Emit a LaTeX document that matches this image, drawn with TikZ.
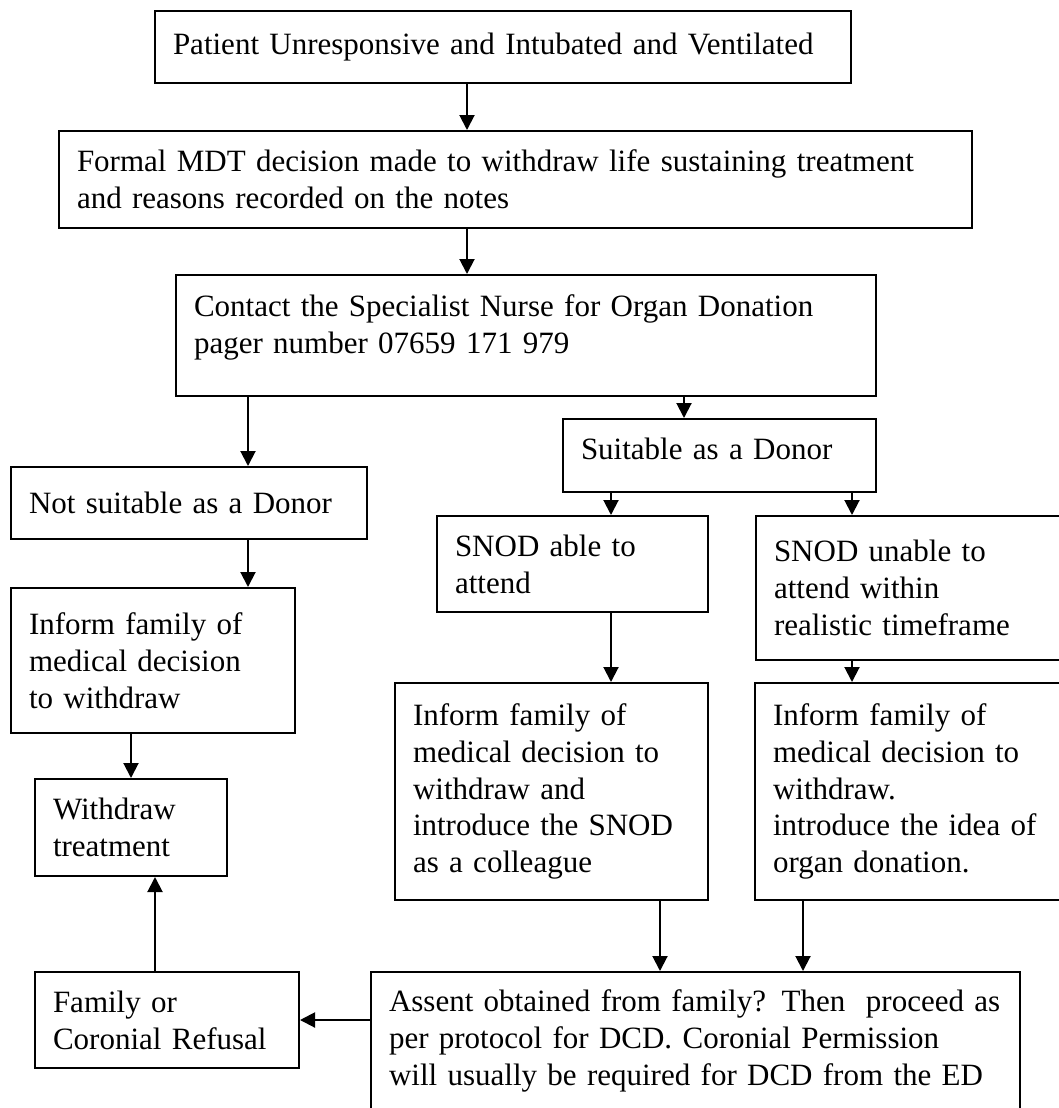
\documentclass[tikz,border=0pt]{standalone}
\usepackage{fontspec}
\setmainfont{Liberation Serif}
\usetikzlibrary{arrows.meta, positioning}
\hyphenpenalty=10000
\tikzstyle{box}   = [rectangle, draw=black, line width=1pt, inner xsep=9pt, inner ysep=0pt,
                     align=left, font=\fontsize{15.5pt}{18.4pt}\selectfont]
\tikzstyle{arrow} = [-{Triangle[length=7.5pt, width=7.5pt]}, line width=1pt]

\begin{document}
\begin{tikzpicture}[x=0.5pt, y=-0.5pt]
  \useasboundingbox (0,0) rectangle (1059,1108);

  \node (pat)      [box, minimum width=348pt, minimum height=36pt, text width=330pt] at (503,47)
                   {Patient Unresponsive and Intubated and Ventilated};
  \node (mdt)      [box, minimum width=456.5pt, minimum height=48.5pt, text width=438.5pt] at (515.5,179.5)
                   {Formal MDT decision made to withdraw life sustaining treatment\\
                    and reasons recorded on the notes};
  \node (contact)  [box, minimum width=350pt, minimum height=60.5pt, text width=332pt, text depth=30pt] at (526,335.5)
                   {Contact the Specialist Nurse for Organ Donation\\
                    pager number 07659 171 979};

  % left branch
  \node (notsuit)  [box, minimum width=178pt, minimum height=36pt, text width=160pt] at (189,503)
                   {Not suitable as a Donor};
  \node (informL)  [box, minimum width=142pt, minimum height=72.5pt, text width=124pt] at (153,660.5)
                   {Inform family of\\medical decision\\to withdraw};
  \node (withdraw) [box, minimum width=96pt, minimum height=48.5pt, text width=78pt] at (131,827.5)
                   {Withdraw\\treatment};
  \node (refusal)  [box, minimum width=132pt, minimum height=48pt, text width=114pt] at (167,1020)
                   {Family or\\Coronial Refusal};

  % right branch
  \node (suit)     [box, minimum width=156.5pt, minimum height=36.5pt, text width=138.5pt, text depth=7pt] at (719.5,455.5)
                   {Suitable as a Donor};
  \node (able)     [box, minimum width=135.5pt, minimum height=48pt, text width=117.5pt] at (572.5,564)
                   {SNOD able to\\attend};
  \node (unable)   [box, minimum width=162pt, minimum height=72pt, text width=144pt] at (918,588)
                   {SNOD unable to\\attend within\\realistic timeframe};
  \node (introsnod)[box, minimum width=156.5pt, minimum height=108.5pt, text width=138.5pt] at (551.5,791.5)
                   {Inform family of\\medical decision to\\withdraw and\\introduce the SNOD\\as a colleague};
  \node (introidea)[box, minimum width=162.5pt, minimum height=108.5pt, text width=144.5pt] at (917.5,791.5)
                   {Inform family of\\medical decision to\\withdraw.\\introduce the idea of\\organ donation.};
  \node (assent)   [box, minimum width=324.5pt, minimum height=84pt, text width=306.5pt] at (695.5,1056)
                   {Assent obtained from family? Then\ \ proceed as\\
                    per protocol for DCD. Coronial Permission\\
                    will usually be required for DCD from the ED\\\mbox{}};

  \draw [arrow] (pat.south -| 467,0)     -- (mdt.north -| 467,0);
  \draw [arrow] (mdt.south -| 467,0)     -- (contact.north -| 467,0);
  \draw [arrow] (contact.south -| 248,0) -- (notsuit.north -| 248,0);
  \draw [arrow] (contact.south -| 684,0) -- (suit.north -| 684,0);
  \draw [arrow] (notsuit.south -| 248,0) -- (informL.north -| 248,0);
  \draw [arrow] (informL.south -| 131,0) -- (withdraw.north -| 131,0);
  \draw [arrow] (suit.south -| 611,0)    -- (able.north -| 611,0);
  \draw [arrow] (suit.south -| 852,0)    -- (unable.north -| 852,0);
  \draw [arrow] (able.south -| 611,0)    -- (introsnod.north -| 611,0);
  \draw [arrow] (unable.south -| 852,0)  -- (introidea.north -| 852,0);
  \draw [arrow] (introsnod.south -| 660,0) -- (assent.north -| 660,0);
  \draw [arrow] (introidea.south -| 803,0) -- (assent.north -| 803,0);
  \draw [arrow] (refusal.north -| 155,0) -- (withdraw.south -| 155,0);
  \draw [arrow] (assent.west |- 0,1020)  -- (refusal.east |- 0,1020);
\end{tikzpicture}
\end{document}
